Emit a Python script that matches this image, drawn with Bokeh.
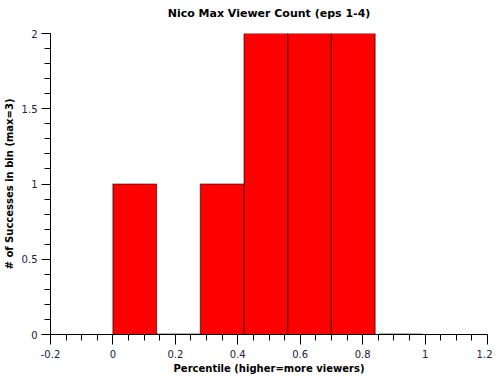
from bokeh.plotting import figure
from bokeh.models import Range1d, FixedTicker, ColumnDataSource, Title
from bokeh.embed import file_html
from bokeh.resources import INLINE

# Histogram bins (percentile) and counts of successes
bin_left = [0.0, 0.14, 0.28, 0.42, 0.56, 0.70, 0.85]
bin_right = [0.14, 0.28, 0.42, 0.56, 0.70, 0.84, 0.99]
counts = [1, 0, 1, 2, 2, 2, 0]

x_ticks = [-0.2, 0, 0.2, 0.4, 0.6, 0.8, 1, 1.2]
y_ticks = [0, 0.5, 1, 1.5, 2]

src = ColumnDataSource(dict(left=bin_left, right=bin_right, top=counts,
                            bottom=[0] * len(counts)))
zl = [l for l, c in zip(bin_left, counts) if c == 0]
zr = [r for r, c in zip(bin_right, counts) if c == 0]
zc = [c for c in counts if c == 0]
zsrc = ColumnDataSource(dict(left=zl, right=zr, top=zc))

p = figure(frame_width=437, frame_height=301, output_backend="svg",
           toolbar_location=None, title=None,
           x_range=Range1d(-0.2, 1.2), y_range=Range1d(0, 2),
           min_border_left=0, min_border_right=5, min_border_top=0,
           min_border_bottom=0)

# small spacer between the plot area and the title
spacer = Title(text=" ", text_font_size="1px", standoff=6)
p.add_layout(spacer, "above")
main_title = Title(text="Nico Max Viewer Count (eps 1-4)", align="center",
                   text_font="DejaVu Sans", text_font_size="11px",
                   text_font_style="bold", text_color="black", standoff=9)
p.add_layout(main_title, "above")

p.quad(left="left", right="right", top="top", bottom="bottom", source=src,
       fill_color="#ff0000", line_color="black", line_alpha=0.55, line_width=1.2)
# empty bins are drawn as a flat outline on the baseline
p.segment(x0="left", x1="right", y0="top", y1="top", source=zsrc,
          line_color="black", line_alpha=0.6, line_width=2.2)

p.outline_line_color = None
p.xgrid.visible = False
p.ygrid.visible = False
p.background_fill_color = "white"
p.border_fill_color = "white"

for ax in (p.xaxis[0], p.yaxis[0]):
    ax.major_label_text_font = "DejaVu Sans"
    ax.major_label_text_font_size = "10px"
    ax.major_label_text_color = "#202040"
    ax.axis_label_text_font = "DejaVu Sans"
    ax.axis_label_text_font_size = "10px"
    ax.axis_label_text_font_style = "bold"
    ax.axis_label_text_color = "black"
    ax.axis_line_color = "black"
    ax.major_tick_line_color = "black"
    ax.minor_tick_line_color = "black"
    ax.major_tick_in = 0
    ax.minor_tick_in = 0

p.xaxis.ticker = FixedTicker(ticks=x_ticks,
                             minor_ticks=[-0.2 + 0.05 * i for i in range(29)])
p.yaxis.ticker = FixedTicker(ticks=y_ticks,
                             minor_ticks=[0.1 * i for i in range(21)])
p.xaxis.major_tick_out = 10
p.xaxis.minor_tick_out = 6
p.yaxis.major_tick_out = 9
p.yaxis.minor_tick_out = 6
p.xaxis.major_label_standoff = 5
p.yaxis.major_label_standoff = 4
p.xaxis.axis_label_standoff = 2
p.yaxis.axis_label_standoff = 4
p.xaxis.axis_label = "Percentile (higher=more viewers)"
p.yaxis.axis_label = "# of Successes in bin (max=3)"
p.xaxis.major_label_overrides = {-0.2: "-0.2", 0: "0", 0.2: "0.2", 0.4: "0.4",
                                 0.6: "0.6", 0.8: "0.8", 1: "1", 1.2: "1.2"}
p.yaxis.major_label_overrides = {0: "0", 0.5: "0.5", 1: "1", 1.5: "1.5", 2: "2"}

open("out.html", "w").write(file_html(p, INLINE))
